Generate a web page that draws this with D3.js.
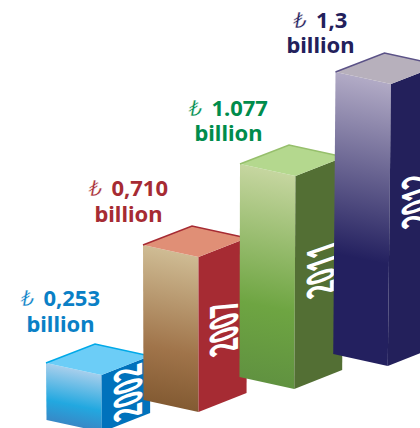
<!DOCTYPE html>
<html><head><meta charset="utf-8">
<script src="https://cdn.jsdelivr.net/npm/d3@7"></script>
<style>html,body{margin:0;background:#fff}svg{display:block}</style></head>
<body><svg id="c" width="420" height="428"></svg>
<script>
const years = ["2002","2007","2011","2012"];
const values = [0.253,0.710,1.077,1.3];
const amounts = ["0,253","0,710","1.077","1,3"];
const unit = "billion";
const lira = "\u20BA";
const labelColors = ["#0a80c6","#a62b33","#008c4c","#23205b"];
const topColors = ["#6ccdf7","#e08f76","#b4d88e","#b7b0bc"];
const edgeColors = ["#00a9e8","#a62b33","#96bf6c","#5b5287"];
const sideColors = ["#0072bc","#a62b33","#536f34","#23205b"];
const frontStops = [
 ["#a9cfec","#22a8e0","#3a85c4"],
 ["#cfbc94","#a0744a","#805830"],
 ["#c6d6a0","#6ea542","#5f9040"],
 ["#b2abc6","#23205f","#23205f"]];

const svg = d3.select("#c");
const defs = svg.append("defs");
const W=55.5, D=48.5, slopeF=12/55.5, slopeS=19/48.5;
const xs = d3.scaleOrdinal(years,[46,143,240,335.5]);
const base = d3.scaleOrdinal(years,[432,412,389,366]);
const h = d3.scaleLinear().domain([0,0.253,0.71,1.077,1.3]).range([0,57,155,213,282]);
const textMid = d3.scaleOrdinal(years,[393,328,270,200]);
const textX = d3.scaleOrdinal(years,[127.5,224,321,416]);
const labelX = d3.scaleOrdinal(years,[60.5,128.5,228.5,320.5]);
const labelY = d3.scaleOrdinal(years,[306,196,116,28]);
const labelGap = d3.scaleOrdinal(years,[26,26,25,25]);
const lean = 6e-5;

years.forEach((y,i)=>{
  const v=values[i], H=h(v), x0=xs(y), yb=base(y), yt=yb-H;
  const dx=x=>(200-x)*H*lean;
  const A=[x0,yt-W*slopeF], B=[x0+W,yt], C=[x0+W+D,yt-D*slopeS], E=[x0+49,yt-31];
  const A2=[A[0]+dx(A[0]),yb-W*slopeF], B2=[B[0]+dx(B[0]),yb], C2=[C[0]+dx(C[0]),yb-D*slopeS];
  const g=svg.append("g");
  const grad=defs.append("linearGradient").attr("id","f"+i).attr("gradientUnits","userSpaceOnUse")
    .attr("x1",A[0]).attr("y1",A[1]).attr("x2",A[0]-H*0.2).attr("y2",A[1]+H);
  [0,.62,1].forEach((o,k)=>grad.append("stop").attr("offset",o).attr("stop-color",frontStops[i][k]));
  const line=d3.line();
  g.append("path").attr("d",line([A,B,B2,A2])+"Z").attr("fill",`url(#f${i})`);
  g.append("path").attr("d",line([B,C,C2,B2])+"Z").attr("fill",sideColors[i]);
  g.append("path").attr("d",line([A,B,C,E])+"Z").attr("fill",topColors[i]);
  g.append("path").attr("d",line([A,E,C])).attr("fill","none").attr("stroke",edgeColors[i]).attr("stroke-width",1.6);
  const s=1.57, sk=0.35, ox=textX(y)+14, oy=textMid(y)-14*sk;
  g.append("text").text(y)
    .attr("transform",`matrix(0,${-0.92},${s},${-sk*s},${ox},${oy})`)
    .attr("text-anchor","middle").attr("font-family","'Noto Sans'").attr("font-weight",700)
    .attr("font-size",25).attr("fill","#fff");
  const t=svg.append("text").attr("text-anchor","middle").attr("fill",labelColors[i])
    .attr("font-family","'Noto Sans'").attr("font-weight",700).attr("font-size",22);
  t.append("tspan").attr("x",labelX(y)).attr("y",labelY(y)).attr("font-family","'DejaVu Sans'").attr("font-weight",400).attr("font-style","italic").attr("font-size",21).attr("stroke","#fff").attr("stroke-width",0.4).text(lira);
  t.append("tspan").attr("dx",9).text(amounts[i]);
  t.append("tspan").attr("x",labelX(y)).attr("y",labelY(y)+labelGap(y)).text(unit);
});
</script></body></html>
